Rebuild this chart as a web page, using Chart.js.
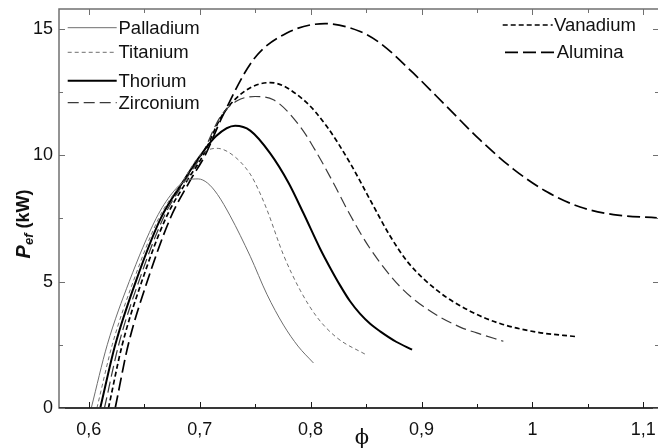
<!DOCTYPE html>
<html>
<head>
<meta charset="utf-8">
<script src="https://cdn.jsdelivr.net/npm/chart.js@4.4.1/dist/chart.umd.min.js"></script>
<style>
html, body { margin: 0; padding: 0; background: #fff; overflow: hidden; }
#wrap { position: relative; width: 660px; height: 448px; }
</style>
</head>
<body>
<div id="wrap"><canvas id="chart"></canvas></div>
<script>
// phi vs P_ef (kW)
const palladium = [[0.6023,0],[0.6167,2.5],[0.6365,5.0],[0.6608,7.5],[0.6753,8.5],[0.6879,9.0],[0.6987,9.06],[0.707,8.9],[0.716,8.45],[0.7275,7.6],[0.7456,6.0],[0.7606,4.5],[0.7756,3.28],[0.7886,2.45],[0.8026,1.78]];
const titanium = [[0.6074,0],[0.6212,2.5],[0.6401,5.0],[0.6631,7.5],[0.6852,9.0],[0.7005,10.0],[0.7155,10.27],[0.7293,10.02],[0.7456,9.25],[0.7531,8.62],[0.7606,7.85],[0.7756,6.05],[0.7906,4.66],[0.8057,3.6],[0.8237,2.78],[0.8507,2.09]];
const thorium = [[0.6104,0],[0.6239,2.5],[0.6424,5.0],[0.6649,7.5],[0.6857,9.0],[0.7009,10.0],[0.7149,10.76],[0.732,11.16],[0.7456,10.97],[0.7636,10.07],[0.7802,8.9],[0.7936,7.7],[0.8086,6.3],[0.8176,5.55],[0.8266,4.85],[0.8356,4.22],[0.8447,3.72],[0.8537,3.33],[0.8627,3.03],[0.8771,2.62],[0.8915,2.31]];
const zirconium = [[0.6142,0],[0.627,2.5],[0.6451,5.0],[0.6671,7.5],[0.687,9.0],[0.7018,10.0],[0.7185,11.51],[0.7338,12.15],[0.75,12.32],[0.7665,12.19],[0.7906,11.13],[0.8057,10.08],[0.8206,8.9],[0.8357,7.63],[0.8537,6.3],[0.8807,4.8],[0.9048,3.92],[0.9348,3.2],[0.9498,2.97],[0.9738,2.64]];
const vanadium = [[0.6178,0],[0.6302,2.5],[0.6478,5.0],[0.6694,7.5],[0.6888,9.0],[0.7032,10.0],[0.7194,11.51],[0.741,12.54],[0.7636,12.87],[0.7936,12.19],[0.8147,11.13],[0.8357,9.68],[0.8537,8.23],[0.8717,6.8],[0.888,5.75],[0.915,4.62],[0.9438,3.83],[0.9708,3.34],[1.0039,3.0],[1.04,2.82]];
const alumina = [[0.6239,0],[0.6356,2.5],[0.6527,5.0],[0.6735,7.5],[0.6915,9.0],[0.705,10.0],[0.7203,11.51],[0.7483,13.77],[0.7786,14.83],[0.8131,15.2],[0.8447,14.89],[0.8627,14.43],[0.8927,13.24],[0.9228,11.92],[0.9528,10.6],[0.9828,9.45],[1.013,8.55],[1.043,7.95],[1.073,7.65],[1.1121,7.52]];

const seriesNames = ['Palladium', 'Titanium', 'Thorium', 'Zirconium', 'Vanadium', 'Alumina'];

const xTickValues = [0.6, 0.7, 0.8, 0.9, 1.0, 1.1];
const xTickLabels = ['0,6', '0,7', '0,8', '0,9', '1', '1,1'];
const yTickValues = [0, 5, 10, 15];
const yTickLabels = ['0', '5', '10', '15'];

const X_MIN = 0.5732, X_MAX = 1.1141;
const Y_MIN = 0, Y_MAX = 15.78;

const styles = [
    { color: '#6e6e6e', width: 1, dash: [] },
    { color: '#6e6e6e', width: 1, dash: [4, 3] },
    { color: '#000000', width: 2, dash: [] },
    { color: '#3a3a3a', width: 1.2, dash: [11, 5] },
    { color: '#000000', width: 1.7, dash: [5, 3] },
    { color: '#000000', width: 1.7, dash: [13, 5] }
];

// legend placement (pixels)
const legendSpots = [
    { x0: 67.7, x1: 116.7, tx: 118.5, y: 27.7 },
    { x0: 67.7, x1: 116.7, tx: 118.5, y: 52.3 },
    { x0: 67.7, x1: 116.7, tx: 118.5, y: 80.7 },
    { x0: 67.7, x1: 116.7, tx: 118.5, y: 102.7 },
    { x0: 502.7, x1: 552.7, tx: 554, y: 25 },
    { x0: 505, x1: 555.3, tx: 556.7, y: 52.3 }
];

const allSeries = [palladium, titanium, thorium, zirconium, vanadium, alumina];

const datasets = allSeries.map(function(points, i) {
    return {
        label: seriesNames[i],
        data: points.map(function(p) { return { x: p[0], y: p[1] }; }),
        borderColor: styles[i].color,
        borderWidth: styles[i].width,
        borderDash: styles[i].dash,
        pointRadius: 0,
        fill: false,
        cubicInterpolationMode: 'monotone'
    };
});

function seg(ctx, x1, y1, x2, y2) {
    ctx.beginPath();
    ctx.moveTo(x1, y1);
    ctx.lineTo(x2, y2);
    ctx.stroke();
}

const framePlugin = {
    id: 'framePlugin',
    afterDraw: function(chart) {
        const ctx = chart.ctx;
        const a = chart.chartArea;
        const xs = chart.scales.x, ys = chart.scales.y;
        const L = Math.round(a.left), R = Math.round(a.right);
        const T = Math.round(a.top), B = Math.round(a.bottom);
        ctx.save();
        ctx.setLineDash([]);

        // frame
        ctx.lineWidth = 1.5;
        ctx.strokeStyle = '#707070';
        ctx.strokeRect(L, T, R - L, B - T);
        ctx.strokeStyle = '#1a1a1a';
        seg(ctx, L, B, R, B);

        // inward ticks
        ctx.lineWidth = 1;
        for (let k = 0; k <= 10; k++) {
            const px = Math.round(xs.getPixelForValue(0.6 + k * 0.05)) + 0.5;
            const len = k % 2 === 0 ? 6 : 4;
            ctx.strokeStyle = '#1a1a1a';
            seg(ctx, px, B, px, B - len);
            ctx.strokeStyle = '#707070';
            seg(ctx, px, T, px, T + len);
        }
        for (let k = 0; k <= 6; k++) {
            const py = Math.round(ys.getPixelForValue(k * 2.5)) + 0.5;
            const len = k % 2 === 0 ? 6 : 4;
            ctx.strokeStyle = '#707070';
            seg(ctx, L, py, L + len, py);
            seg(ctx, R, py, R - len, py);
        }

        // legend
        ctx.font = '18.5px "Liberation Sans", Arial, sans-serif';
        ctx.textBaseline = 'middle';
        ctx.textAlign = 'left';
        chart.data.datasets.forEach(function(ds, i) {
            const s = legendSpots[i];
            ctx.strokeStyle = ds.borderColor;
            ctx.lineWidth = ds.borderWidth;
            ctx.setLineDash(ds.borderDash);
            seg(ctx, s.x0, s.y, s.x1, s.y);
            ctx.setLineDash([]);
            ctx.fillStyle = '#111';
            ctx.fillText(ds.label, s.tx, s.y + 1);
        });

        // x title
        ctx.font = '21px "DejaVu Serif", serif';
        ctx.textAlign = 'center';
        ctx.textBaseline = 'alphabetic';
        ctx.fillStyle = '#111';
        ctx.fillText('\u03D5', 362, 444);

        // y title: P_ef (kW)
        ctx.translate(24, 224);
        ctx.rotate(-Math.PI / 2);
        const fBig = 'italic bold 20px "Liberation Sans", Arial, sans-serif';
        const fSub = 'italic bold 13px "Liberation Sans", Arial, sans-serif';
        const fRest = 'bold 18px "Liberation Sans", Arial, sans-serif';
        ctx.font = fBig; const wP = ctx.measureText('P').width;
        ctx.font = fSub; const wS = ctx.measureText('ef').width;
        ctx.font = fRest; const wR = ctx.measureText(' (kW)').width;
        let x0 = -(wP + wS + wR) / 2;
        ctx.textAlign = 'left';
        ctx.textBaseline = 'middle';
        ctx.font = fBig; ctx.fillText('P', x0, 0); x0 += wP;
        ctx.font = fSub; ctx.fillText('ef', x0, 5); x0 += wS;
        ctx.font = fRest; ctx.fillText(' (kW)', x0, 0);
        ctx.restore();
    }
};

function noPadding(s) {
    s.paddingLeft = 0;
    s.paddingRight = 0;
    s.paddingTop = 0;
    s.paddingBottom = 0;
}

const tickFont = { family: "'Liberation Sans', Arial, sans-serif", size: 18 };

new Chart(document.getElementById('chart'), {
    type: 'line',
    data: { datasets: datasets },
    options: {
        responsive: true,
        maintainAspectRatio: false,
        animation: false,
        layout: { padding: { top: 9, right: 1, left: 0, bottom: 0 } },
        plugins: { legend: { display: false }, tooltip: { enabled: false } },
        scales: {
            x: {
                type: 'linear',
                min: X_MIN,
                max: X_MAX,
                grid: { display: false, drawTicks: false },
                border: { display: false },
                afterBuildTicks: function(s) { s.ticks = xTickValues.map(function(v) { return { value: v }; }); },
                afterFit: function(s) { s.height = 40; noPadding(s); },
                ticks: {
                    color: '#111',
                    font: tickFont,
                    padding: 11,
                    maxRotation: 0,
                    autoSkip: false,
                    callback: function(v, i) { return xTickLabels[i]; }
                }
            },
            y: {
                type: 'linear',
                min: Y_MIN,
                max: Y_MAX,
                grid: { display: false, drawTicks: false },
                border: { display: false },
                afterBuildTicks: function(s) { s.ticks = yTickValues.map(function(v) { return { value: v }; }); },
                afterFit: function(s) { s.width = 59; noPadding(s); },
                ticks: {
                    color: '#111',
                    font: tickFont,
                    padding: 6,
                    autoSkip: false,
                    callback: function(v, i) { return yTickLabels[i]; }
                }
            }
        }
    },
    plugins: [framePlugin]
});
</script>
</body>
</html>
